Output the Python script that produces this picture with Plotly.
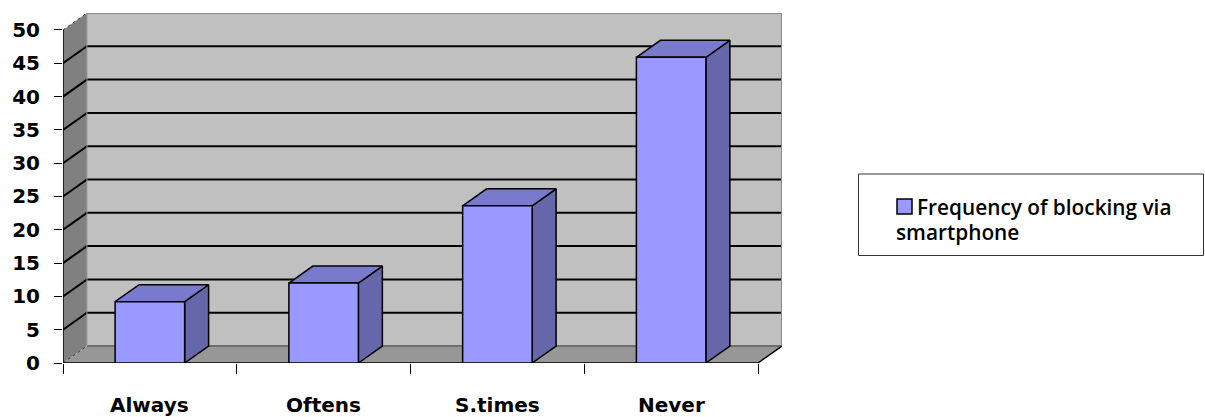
import plotly.graph_objects as go

# Data
categories = ["Always", "Oftens", "S.times", "Never"]
values = [9.2, 12.0, 23.6, 45.9]
y_ticks = [0, 5, 10, 15, 20, 25, 30, 35, 40, 45, 50]
series_name = "Frequency of blocking via smartphone"

# 3D look: depth offset of the box (in axis units) and bar half-width
DX = 0.138
DY = 2.55
HALF_W = 0.2
Y_MAX = 50
N = len(categories)

FRONT = "#9999FF"
TOP = "#7A7ACC"
SIDE = "#6666AA"
BACK_WALL = "#C0C0C0"
SIDE_WALL = "#808080"
FLOOR = "#979797"

# Figure geometry (pixels)
W, H = 1205, 417
ML, MR, MT, MB = 63, 423, 13, 54
PW = W - ML - MR
PH = H - MT - MB


def px_x(px):
    return (px - ML) / PW


def px_y(py):
    return (H - MB - py) / PH


fig = go.Figure()


def poly(xs, ys, fill, line_color=None, line_width=0, dash=None):
    fig.add_trace(go.Scatter(
        x=list(xs) + [xs[0]], y=list(ys) + [ys[0]],
        mode="lines", fill="toself", fillcolor=fill,
        line=dict(color=line_color or fill, width=line_width, dash=dash),
        hoverinfo="skip", showlegend=False))


def seg(xs, ys, color="black", width=2, dash=None):
    fig.add_trace(go.Scatter(
        x=xs, y=ys, mode="lines",
        line=dict(color=color, width=width, dash=dash),
        hoverinfo="skip", showlegend=False))


# Walls and floor
poly([0, DX, DX, 0], [0, DY, Y_MAX + DY, Y_MAX], SIDE_WALL)
poly([0, N, N + DX, DX], [0, 0, DY, DY], FLOOR)
poly([DX, N + DX, N + DX, DX], [DY, DY, Y_MAX + DY, Y_MAX + DY], BACK_WALL)

# Gridlines on back wall and side wall
for v in y_ticks[1:-1]:
    seg([0, DX, N + DX], [v, v + DY, v + DY], "black", 2)
seg([0, DX], [0, DY], "#404040", 1, "dot")
seg([DX, N + DX], [DY, DY], "#6e6e6e", 2)
seg([0, DX], [Y_MAX, Y_MAX + DY], "#404040", 1, "dot")
seg([DX, N + DX, N + DX], [Y_MAX + DY, Y_MAX + DY, DY], "#8a8a8a", 2)
seg([DX, DX], [DY, Y_MAX + DY], "#9a9a9a", 1)

# Front edges of the floor and value axis
seg([N, N + DX], [0, DY], "black", 1.5)
seg([0, N], [0, 0], "black", 1.5)
seg([0, 0], [0, Y_MAX], "black", 1.5)

# Bars as boxes
for i, v in enumerate(values):
    c = i + 0.5
    x0, x1 = c - HALF_W, c + HALF_W
    poly([x1, x1 + DX, x1 + DX, x1], [0, DY, v + DY, v], SIDE, "black", 1.5)
    poly([x0, x1, x1 + DX, x0 + DX], [v, v, v + DY, v + DY], TOP, "black", 1.5)
    poly([x0, x1, x1, x0], [0, 0, v, v], FRONT, "black", 1.5)

# Category labels
annotations = []
for i, name in enumerate(categories):
    annotations.append(dict(
        x=i + 0.5, y=0, xref="x", yref="y", text="<b>%s</b>" % name,
        showarrow=False, yanchor="middle", xanchor="center", yshift=-42,
        font=dict(family="DejaVu Sans", size=20, color="black")))

# Legend box
line1, line2 = "Frequency of blocking via", "smartphone"
annotations.append(dict(
    x=px_x(915), y=px_y(207), xref="paper", yref="paper", text=line1,
    showarrow=False, xanchor="left", yanchor="middle",
    font=dict(family="Open Sans", size=20.8, color="black", weight=600)))
annotations.append(dict(
    x=px_x(894), y=px_y(231.5), xref="paper", yref="paper", text=line2,
    showarrow=False, xanchor="left", yanchor="middle",
    font=dict(family="Open Sans", size=20.8, color="black", weight=600)))

shapes = [
    dict(type="rect", xref="paper", yref="paper",
         x0=px_x(858.5), x1=px_x(1203.5), y0=px_y(174), y1=px_y(255.5),
         line=dict(color="#333333", width=1), fillcolor="white"),
    dict(type="rect", xref="paper", yref="paper",
         x0=px_x(897), x1=px_x(912), y0=px_y(199), y1=px_y(214),
         line=dict(color="black", width=1.5), fillcolor=FRONT),
]

fig.update_layout(
    width=W, height=H,
    margin=dict(l=ML, r=MR, t=MT, b=MB, pad=0),
    paper_bgcolor="white", plot_bgcolor="white",
    showlegend=False,
    xaxis=dict(range=[0, N + DX], tickvals=list(range(N + 1)),
               ticktext=[""] * (N + 1), ticks="outside", ticklen=10,
               tickcolor="black", tickwidth=1, showgrid=False,
               zeroline=False, showline=False, fixedrange=True),
    yaxis=dict(range=[0, Y_MAX + DY], tickvals=y_ticks,
               ticktext=["<b>%d</b>" % t for t in y_ticks],
               ticks="outside", ticklen=8, tickcolor="black", tickwidth=1,
               ticklabelstandoff=10,
               tickfont=dict(family="DejaVu Sans", size=20, color="black"),
               showgrid=False, zeroline=False, showline=False,
               fixedrange=True),
    annotations=annotations,
    shapes=shapes,
)

fig.write_html("out.html")
